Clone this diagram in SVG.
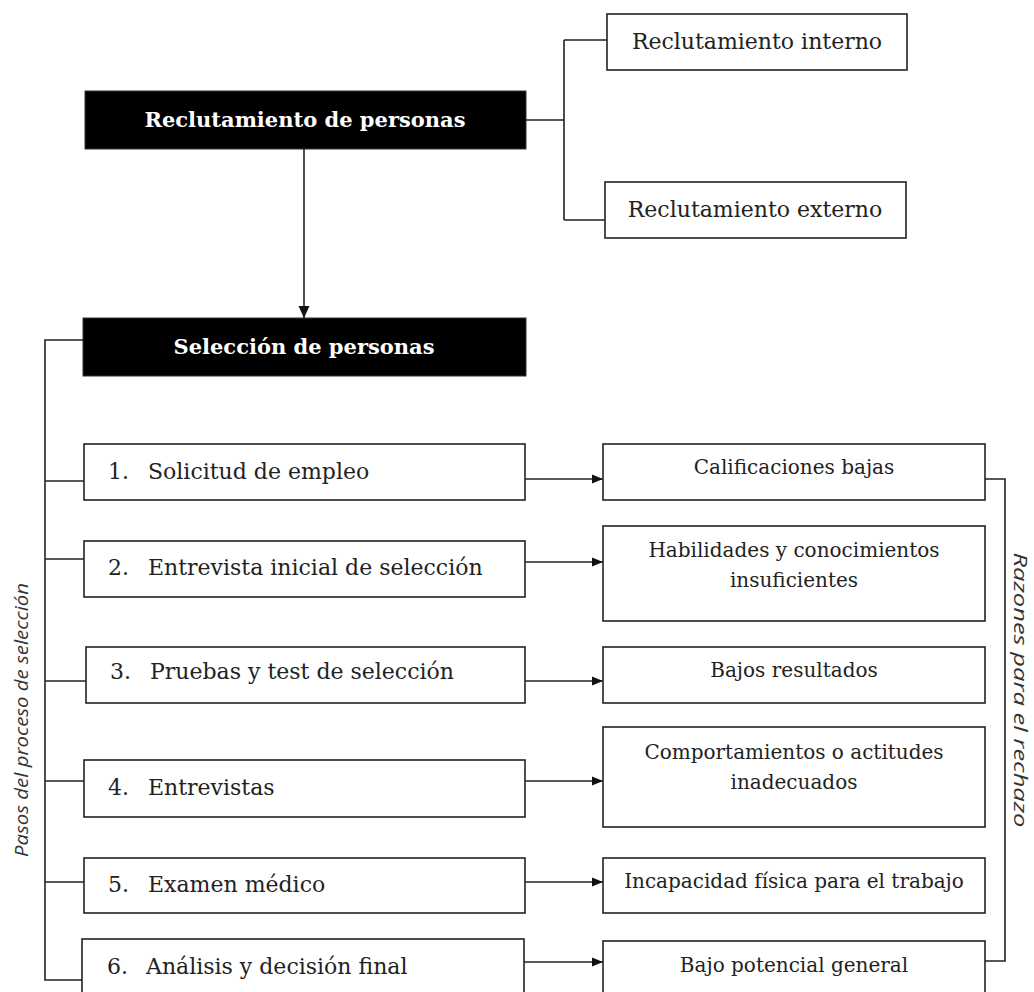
<svg xmlns="http://www.w3.org/2000/svg" width="1034" height="992" viewBox="0 0 1034 992">
<style>
.box{fill:#fff;stroke:#222;stroke-width:1.6}
.dark{fill:#000;stroke:#333;stroke-width:1}
.t{font-family:"DejaVu Serif","Liberation Serif",serif;font-size:22px;fill:#222}
.r{font-family:"DejaVu Serif","Liberation Serif",serif;font-size:20px;fill:#222;text-anchor:middle}
.b{font-family:"DejaVu Serif","Liberation Serif",serif;font-size:21px;font-weight:bold;fill:#fff;text-anchor:middle}
.it{font-family:"Open Sans","Noto Sans",sans-serif;font-style:italic;fill:#333;text-anchor:middle}
.ln{fill:none;stroke:#222;stroke-width:1.6}
</style>
<defs>
<marker id="ah" markerWidth="11" markerHeight="11" refX="11" refY="5.5" orient="auto" markerUnits="userSpaceOnUse">
<path d="M0,1 L11,5.5 L0,10 Z" fill="#111"/>
</marker>
<marker id="ahd" markerWidth="12" markerHeight="12" refX="12" refY="6" orient="auto" markerUnits="userSpaceOnUse">
<path d="M0,0.5 L12,6 L0,11.5 Z" fill="#111"/>
</marker>
</defs>

<g id="connectors">
<path class="ln" d="M304,149 V318" marker-end="url(#ahd)"/>
<path class="ln" d="M526,120 H564 M564,40 V220 M564,40 H607 M564,220 H605"/>
<path class="ln" d="M83,340 H45 V980 H82 M45,481 H84 M45,559 H84 M45,681 H86 M45,781 H84 M45,882 H84"/>
<path class="ln" d="M525,479 H603" marker-end="url(#ah)"/>
<path class="ln" d="M525,562 H603" marker-end="url(#ah)"/>
<path class="ln" d="M525,681 H603" marker-end="url(#ah)"/>
<path class="ln" d="M525,781 H603" marker-end="url(#ah)"/>
<path class="ln" d="M525,882 H603" marker-end="url(#ah)"/>
<path class="ln" d="M524,962 H603" marker-end="url(#ah)"/>
<path class="ln" d="M985,479 H1005 V961 H985"/>
</g>

<g id="reclutamiento">
<rect class="dark" x="85" y="91" width="441" height="58"/>
<text class="b" x="305" y="127">Reclutamiento de personas</text>
</g>
<g id="interno">
<rect class="box" x="607" y="14" width="300" height="56"/>
<text class="t" x="757" y="49" text-anchor="middle">Reclutamiento interno</text>
</g>
<g id="externo">
<rect class="box" x="605" y="182" width="301" height="56"/>
<text class="t" x="755" y="217" text-anchor="middle">Reclutamiento externo</text>
</g>
<g id="seleccion">
<rect class="dark" x="83" y="318" width="443" height="58"/>
<text class="b" x="304" y="354">Selección de personas</text>
</g>

<g id="paso1">
<rect class="box" x="84" y="444" width="441" height="56"/>
<text class="t" x="108" y="479">1.</text><text class="t" x="148" y="479">Solicitud de empleo</text>
</g>
<g id="paso2">
<rect class="box" x="84" y="541" width="441" height="56"/>
<text class="t" x="108" y="575">2.</text><text class="t" x="148" y="575">Entrevista inicial de selección</text>
</g>
<g id="paso3">
<rect class="box" x="86" y="647" width="439" height="56"/>
<text class="t" x="110" y="679">3.</text><text class="t" x="150" y="679">Pruebas y test de selección</text>
</g>
<g id="paso4">
<rect class="box" x="84" y="760" width="441" height="57"/>
<text class="t" x="108" y="795">4.</text><text class="t" x="148" y="795">Entrevistas</text>
</g>
<g id="paso5">
<rect class="box" x="84" y="858" width="441" height="55"/>
<text class="t" x="108" y="892">5.</text><text class="t" x="148" y="892">Examen médico</text>
</g>
<g id="paso6">
<rect class="box" x="82" y="939" width="442" height="60"/>
<text class="t" x="107" y="974">6.</text><text class="t" x="146" y="974">Análisis y decisión final</text>
</g>

<g id="razon1">
<rect class="box" x="603" y="444" width="382" height="56"/>
<text class="r" x="794" y="474">Calificaciones bajas</text>
</g>
<g id="razon2">
<rect class="box" x="603" y="526" width="382" height="95"/>
<text class="r" x="794" y="557">Habilidades y conocimientos</text>
<text class="r" x="794" y="587">insuficientes</text>
</g>
<g id="razon3">
<rect class="box" x="603" y="647" width="382" height="56"/>
<text class="r" x="794" y="677">Bajos resultados</text>
</g>
<g id="razon4">
<rect class="box" x="603" y="727" width="382" height="100"/>
<text class="r" x="794" y="759">Comportamientos o actitudes</text>
<text class="r" x="794" y="789">inadecuados</text>
</g>
<g id="razon5">
<rect class="box" x="603" y="858" width="382" height="55"/>
<text class="r" x="794" y="888">Incapacidad física para el trabajo</text>
</g>
<g id="razon6">
<rect class="box" x="603" y="941" width="382" height="58"/>
<text class="r" x="794" y="972">Bajo potencial general</text>
</g>

<g id="label-pasos">
<text class="it" transform="translate(28,720) rotate(-90)" font-size="18" textLength="274" lengthAdjust="spacingAndGlyphs">Pasos del proceso de selección</text>
</g>
<g id="label-razones">
<text class="it" transform="translate(1014,690) rotate(90)" font-size="18" textLength="275" lengthAdjust="spacingAndGlyphs">Razones para el rechazo</text>
</g>
</svg>
